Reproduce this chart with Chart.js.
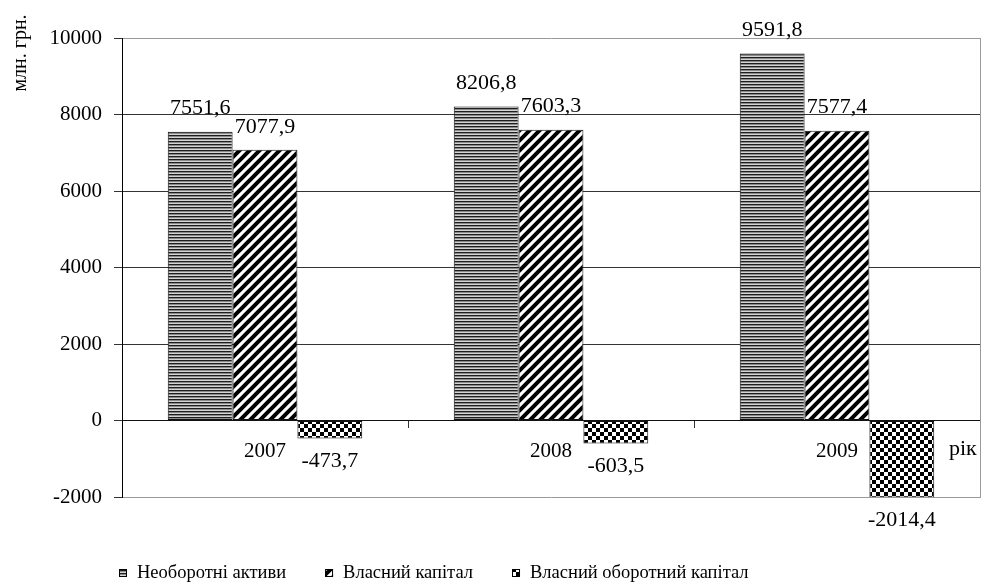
<!DOCTYPE html>
<html><head><meta charset="utf-8">
<script src="https://cdn.jsdelivr.net/npm/chart.js@4.4.0/dist/chart.umd.min.js"></script>
<style>html,body{margin:0;padding:0;background:#fff;}#wrap{width:991px;height:586px;}</style>
</head><body><div id="wrap"><canvas id="c" width="991" height="586"></canvas></div>
<script>
const categories = ['2007', '2008', '2009'];
const seriesNames = ['Необоротні активи', 'Власний капітал', 'Власний оборотний капітал'];
const fixedAssets = [7551.6, 8206.8, 9591.8];
const equity = [7077.9, 7603.3, 7577.4];
const workingCapital = [-473.7, -603.5, -2014.4];
const yTicks = [-2000, 0, 2000, 4000, 6000, 8000, 10000];
const yUnit = 'млн. грн.';
const xUnit = 'рік';

const SERIF = '"Liberation Serif", "Times New Roman", serif';

function makePattern(w, h, draw) {
  const cv = document.createElement('canvas');
  cv.width = w; cv.height = h;
  const g = cv.getContext('2d');
  draw(g, w, h);
  return document.getElementById('c').getContext('2d').createPattern(cv, 'repeat');
}
const patLines = makePattern(4, 3, (g, w, h) => {
  g.fillStyle = '#d4d4d4'; g.fillRect(0, 0, w, h);
  g.fillStyle = '#1e1e1e'; g.fillRect(0, 0, w, 1);
  g.fillStyle = '#8a8a8a'; g.fillRect(0, 1, w, 1);
});
const patDiag = makePattern(10, 10, (g, w, h) => {
  g.fillStyle = '#fff'; g.fillRect(0, 0, w, h);
  g.strokeStyle = '#000'; g.lineWidth = 4;
  g.beginPath();
  g.moveTo(-5, 5); g.lineTo(5, -5);
  g.moveTo(0, 10); g.lineTo(10, 0);
  g.moveTo(5, 15); g.lineTo(15, 5);
  g.stroke();
});
const patCheck = makePattern(8, 8, (g, w, h) => {
  g.fillStyle = '#fff'; g.fillRect(0, 0, w, h);
  g.fillStyle = '#000';
  g.fillRect(0, 0, 4, 4); g.fillRect(4, 4, 4, 4);
});
const patterns = [patLines, patDiag, patCheck];

const fmt = v => v.toFixed(1).replace('.', ',');

const extrasPlugin = {
  id: 'extras',
  beforeDatasetsDraw(chart) {
    const {ctx, chartArea} = chart;
    ctx.save();
    ctx.strokeStyle = '#9a9a9a'; ctx.lineWidth = 1;
    const x = Math.round(chartArea.right) + 0.5;
    ctx.beginPath(); ctx.moveTo(x, Math.round(chartArea.top)); ctx.lineTo(x, Math.round(chartArea.bottom) + 1); ctx.stroke();
    ctx.restore();
  },
  afterDatasetsDraw(chart) {
    const {ctx} = chart;
    ctx.save();
    ctx.fillStyle = '#000';
    ctx.font = '22px ' + SERIF;
    ctx.textAlign = 'center';
    ctx.textBaseline = 'middle';
    chart.data.datasets.forEach((ds, di) => {
      const meta = chart.getDatasetMeta(di);
      meta.data.forEach((el, i) => {
        const v = ds.data[i];
        const y = v >= 0 ? el.y - 23 : el.y + 23;
        ctx.fillText(fmt(v), el.x, y);
      });
    });
    ctx.restore();
  },
  afterDraw(chart) {
    const {ctx, chartArea, scales} = chart;
    ctx.save();
    ctx.fillStyle = '#000';
    // x unit
    ctx.font = '22px ' + SERIF;
    ctx.textAlign = 'left'; ctx.textBaseline = 'middle';
    ctx.fillText(xUnit, chartArea.right - 31, scales.y.getPixelForValue(0) + 29);
    // y unit
    ctx.save();
    ctx.font = '20px ' + SERIF;
    ctx.translate(21, chartArea.top + 15);
    ctx.rotate(-Math.PI / 2);
    ctx.textAlign = 'center'; ctx.textBaseline = 'middle';
    ctx.fillText(yUnit, 0, 0);
    ctx.restore();
    // legend
    ctx.font = '18.5px ' + SERIF;
    ctx.textBaseline = 'middle'; ctx.textAlign = 'left';
    let lx = 119;
    const ly = 573;
    const box = 8;
    chart.data.datasets.forEach((ds, di) => {
      ctx.fillStyle = ds.backgroundColor;
      ctx.fillRect(lx, ly - box / 2, box, box);
      ctx.strokeStyle = '#000'; ctx.lineWidth = 1;
      ctx.strokeRect(lx + 0.5, ly - box / 2 + 0.5, box - 1, box - 1);
      ctx.fillStyle = '#000';
      const tx = lx + box + 10;
      ctx.fillText(ds.label, tx, ly);
      lx = tx + ctx.measureText(ds.label).width + 39;
    });
    ctx.restore();
  }
};

const values = [fixedAssets, equity, workingCapital];
new Chart(document.getElementById('c'), {
  type: 'bar',
  data: {
    labels: categories,
    datasets: values.map((d, i) => ({
      label: seriesNames[i],
      data: d,
      backgroundColor: patterns[i],
      borderColor: '#111',
      borderWidth: 1,
      borderSkipped: false,
      categoryPercentage: 0.68,
      barPercentage: 1
    }))
  },
  options: {
    responsive: false,
    animation: false,
    devicePixelRatio: 1,
    layout: {padding: {left: 0, right: 11, top: 38, bottom: 89}},
    plugins: {legend: {display: false}, tooltip: {enabled: false}},
    scales: {
      x: {
        type: 'category',
        position: {y: 0},
        offset: true,
        grid: {drawOnChartArea: false, drawTicks: true, tickLength: 7, color: '#333', offset: true},
        border: {display: true, color: '#111', width: 1},
        ticks: {font: {family: SERIF, size: 21}, color: '#000', padding: 11, maxRotation: 0},
        afterFit(s) { s.height = 0; }
      },
      y: {
        min: -2000, max: 10000,
        afterBuildTicks(s) { s.ticks = yTicks.map(v => ({value: v})); },
        ticks: {font: {family: SERIF, size: 21}, color: '#000', padding: 12, callback: v => String(v)},
        grid: {
          color: c => (c.tick && (c.tick.value === 10000 || c.tick.value === -2000)) ? '#9a9a9a' : '#333',
          tickColor: '#333', tickLength: 8
        },
        border: {display: true, color: '#000', width: 1},
        afterFit(s) { s.width = 122; }
      }
    }
  },
  plugins: [extrasPlugin]
});
</script>
</body></html>
